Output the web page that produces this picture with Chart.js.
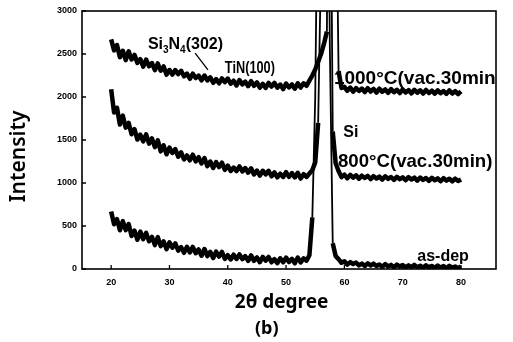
<!DOCTYPE html>
<html>
<head>
<meta charset="utf-8">
<script src="https://cdn.jsdelivr.net/npm/chart.js@4.4.1/dist/chart.umd.min.js"></script>
<style>
  html, body { margin: 0; padding: 0; background: #fff; }
</style>
</head>
<body>
<canvas id="xrdChart" width="513" height="342"></canvas>
<script>
/* XRD patterns: as-dep / 800°C / 1000°C (vac. 30 min) */

// 2θ positions (degree), 0.5° step
const ANGLES = [
  20, 20.5, 21, 21.5, 22, 22.5, 23, 23.5, 24, 24.5, 25, 25.5, 26, 26.5, 27, 27.5, 28, 28.5, 29, 29.5,
  30, 30.5, 31, 31.5, 32, 32.5, 33, 33.5, 34, 34.5, 35, 35.5, 36, 36.5, 37, 37.5, 38, 38.5, 39, 39.5,
  40, 40.5, 41, 41.5, 42, 42.5, 43, 43.5, 44, 44.5, 45, 45.5, 46, 46.5, 47, 47.5, 48, 48.5, 49, 49.5,
  50, 50.5, 51, 51.5, 52, 52.5, 53, 53.5, 54, 54.5, 55, 55.5, 56, 56.5, 57, 57.5, 58, 58.5, 59, 59.5,
  60, 60.5, 61, 61.5, 62, 62.5, 63, 63.5, 64, 64.5, 65, 65.5, 66, 66.5, 67, 67.5, 68, 68.5, 69, 69.5,
  70, 70.5, 71, 71.5, 72, 72.5, 73, 73.5, 74, 74.5, 75, 75.5, 76, 76.5, 77, 77.5, 78, 78.5, 79, 79.5,
  80
];

const AS_DEP = [
  670, 521, 580, 450, 556, 452, 523, 384, 446, 340, 434, 347, 420, 322, 373, 278, 371, 266, 322, 230,
  311, 248, 297, 213, 254, 188, 258, 192, 257, 183, 227, 154, 233, 150, 200, 127, 203, 144, 198, 118,
  160, 111, 166, 117, 170, 114, 150, 94, 158, 95, 134, 79, 140, 96, 140, 78, 115, 67, 125, 78,
  133, 80, 118, 66, 133, 76, 123, 98, 160, 600, 2000, 5000, 9000, 12000, 7000, 2600, 300, 150, 115, 72,
  90, 52, 80, 58, 76, 42, 63, 35, 66, 40, 62, 34, 52, 24, 58, 30, 48, 20, 52, 28,
  46, 20, 42, 22, 48, 18, 38, 16, 44, 20, 36, 14, 40, 16, 34, 12, 38, 14, 30, 10,
  28
];

const T800 = [
  2090, 1819, 1875, 1680, 1783, 1644, 1699, 1567, 1626, 1505, 1563, 1483, 1565, 1457, 1518, 1417, 1497, 1368, 1438, 1334,
  1412, 1349, 1395, 1306, 1357, 1273, 1320, 1264, 1329, 1252, 1300, 1227, 1290, 1196, 1250, 1174, 1243, 1185, 1237, 1153,
  1203, 1140, 1180, 1139, 1192, 1134, 1174, 1120, 1171, 1099, 1144, 1087, 1142, 1100, 1142, 1078, 1124, 1065, 1108, 1070,
  1126, 1072, 1115, 1064, 1119, 1052, 1102, 1070, 1110, 1150, 1240, 1700, 3600, 9000, 12000, 6000, 1600, 1230, 1140, 1068,
  1098, 1055, 1095, 1062, 1090, 1050, 1085, 1058, 1082, 1046, 1080, 1052, 1075, 1040, 1078, 1048, 1070, 1036, 1072, 1044,
  1066, 1032, 1068, 1040, 1062, 1028, 1064, 1036, 1058, 1024, 1060, 1032, 1054, 1020, 1056, 1028, 1050, 1018, 1050, 1024,
  1042
];

const T1000 = [
  2670, 2542, 2604, 2462, 2538, 2429, 2531, 2436, 2490, 2397, 2440, 2352, 2435, 2357, 2395, 2312, 2390, 2305, 2355, 2260,
  2314, 2260, 2313, 2266, 2305, 2241, 2272, 2212, 2271, 2220, 2249, 2193, 2250, 2192, 2229, 2165, 2209, 2159, 2216, 2173,
  2215, 2155, 2189, 2134, 2196, 2147, 2179, 2126, 2185, 2130, 2169, 2108, 2154, 2105, 2163, 2121, 2165, 2108, 2145, 2091,
  2156, 2111, 2146, 2097, 2160, 2110, 2159, 2130, 2190, 2250, 2320, 2410, 2500, 2620, 2760, 9000, 12000, 5000, 2300, 2105,
  2118, 2072, 2110, 2062, 2104, 2070, 2098, 2058, 2102, 2064, 2094, 2052, 2096, 2060, 2088, 2048, 2092, 2056, 2084, 2046,
  2088, 2052, 2080, 2042, 2084, 2050, 2078, 2040, 2082, 2046, 2074, 2038, 2078, 2044, 2070, 2036, 2076, 2040, 2068, 2034,
  2066
];

const X_TICKS = [20, 30, 40, 50, 60, 70, 80];
const Y_TICKS = [0, 500, 1000, 1500, 2000, 2500, 3000];

// text notes anchored in data units (2θ, intensity)
const NOTES = [
  { parts: [['Si'], ['3', 1], ['N'], ['4', 1], ['(302)']], at: [26.3, 2560], size: 16 },
  { parts: [['TiN(100)']], at: [39.5, 2280], size: 17, squeeze: 0.75 },
  { parts: [['1000°C(vac.30min)']], at: [58.2, 2150], size: 19 },
  { parts: [['Si']], at: [59.8, 1535], size: 16 },
  { parts: [['800°C(vac.30min)']], at: [58.9, 1185], size: 19, squeeze: 0.98 },
  { parts: [['as-dep']], at: [72.5, 95], size: 16 }
];
const POINTER = [[34.4, 2510], [36.6, 2315]];

const NOTE_FONT = "'Liberation Sans', Arial, sans-serif";
const SP = '\u00a0';

const frameAndTicks = {
  id: 'frameAndTicks',
  afterDatasetsDraw(chart) {
    const { ctx, chartArea: a, scales: { x, y } } = chart;
    ctx.save();
    ctx.strokeStyle = '#000';
    ctx.lineWidth = 1.6;
    ctx.strokeRect(a.left, a.top, a.right - a.left, a.bottom - a.top);
    ctx.lineWidth = 1.3;
    ctx.beginPath();
    X_TICKS.forEach(v => {
      const px = x.getPixelForValue(v);
      ctx.moveTo(px, a.bottom);
      ctx.lineTo(px, a.bottom - 4);
    });
    Y_TICKS.forEach(v => {
      const py = y.getPixelForValue(v);
      ctx.moveTo(a.left, py);
      ctx.lineTo(a.left + 4, py);
    });
    ctx.stroke();
    ctx.restore();
  }
};

const notesPlugin = {
  id: 'notes',
  afterDatasetsDraw(chart) {
    const { ctx, chartArea: a, scales: { x, y } } = chart;
    ctx.save();
    ctx.beginPath();
    ctx.rect(a.left, a.top, a.right - a.left, a.bottom - a.top);
    ctx.clip();
    ctx.fillStyle = '#000';
    ctx.textBaseline = 'alphabetic';
    ctx.textAlign = 'left';
    NOTES.forEach(n => {
      const k = n.squeeze || 1;
      const x0 = x.getPixelForValue(n.at[0]);
      const py = y.getPixelForValue(n.at[1]);
      ctx.save();
      ctx.translate(x0, py);
      ctx.scale(k, 1);
      let px = 0;
      n.parts.forEach(([txt, sub]) => {
        const sz = sub ? Math.round(n.size * 0.62) : n.size;
        ctx.font = 'bold ' + sz + 'px ' + NOTE_FONT;
        ctx.fillText(txt, px, sub ? 4 : 0);
        px += ctx.measureText(txt).width;
      });
      ctx.restore();
    });
    ctx.strokeStyle = '#000';
    ctx.lineWidth = 1.3;
    ctx.beginPath();
    ctx.moveTo(x.getPixelForValue(POINTER[0][0]), y.getPixelForValue(POINTER[0][1]));
    ctx.lineTo(x.getPixelForValue(POINTER[1][0]), y.getPixelForValue(POINTER[1][1]));
    ctx.stroke();
    ctx.restore();
  }
};

// thinner stroke on the steep Si peak flanks only
const peakWidth = c => (Math.abs(c.p1.parsed.y - c.p0.parsed.y) > 800 ? 1.8 : undefined);

function series(values) {
  return {
    data: ANGLES.map((a, i) => ({ x: a, y: values[i] })),
    borderColor: '#000',
    borderWidth: 4.5,
    borderJoinStyle: 'round',
    segment: { borderWidth: peakWidth },
    pointRadius: 0,
    tension: 0,
    fill: false
  };
}

const tickFont = { family: "'Liberation Sans', Arial, sans-serif", size: 9, weight: 'bold' };

new Chart(document.getElementById('xrdChart'), {
  type: 'line',
  data: { datasets: [series(AS_DEP), series(T800), series(T1000)] },
  options: {
    responsive: false,
    devicePixelRatio: 1,
    animation: false,
    layout: { padding: { top: 11, right: 17, left: 0, bottom: 0 } },
    plugins: {
      legend: { display: false },
      tooltip: { enabled: false },
      title: {
        display: true,
        position: 'bottom',
        text: SP.repeat(8) + '(b)',
        color: '#000',
        font: { family: "'Noto Sans', sans-serif", size: 18, weight: 'bold', lineHeight: 1 },
        padding: { top: 0, bottom: 4 }
      }
    },
    scales: {
      x: {
        type: 'linear',
        min: 15, max: 86,
        afterBuildTicks: s => { s.ticks = X_TICKS.map(v => ({ value: v })); },
        afterFit: s => { s.height = 51; },
        grid: { display: false, drawTicks: false },
        border: { display: false },
        ticks: { color: '#000', font: tickFont, padding: 8, maxRotation: 0 },
        title: {
          display: true,
          text: '2θ degree' + SP.repeat(3),
          color: '#000',
          font: { family: "'Noto Sans', sans-serif", size: 19, weight: 'bold', lineHeight: 1 },
          padding: { top: 0, bottom: 8 }
        }
      },
      y: {
        min: 0, max: 3000,
        afterBuildTicks: s => { s.ticks = Y_TICKS.map(v => ({ value: v })); },
        afterFit: s => { s.width = 82; },
        grid: { display: false, drawTicks: false },
        border: { display: false },
        ticks: { color: '#000', font: tickFont, padding: 5, callback: v => String(v) },
        title: {
          display: true,
          text: 'Intensity' + SP.repeat(6),
          color: '#000',
          font: { family: "'Noto Sans', sans-serif", size: 21, weight: '600', lineHeight: 1 },
          padding: { top: 9, bottom: 0 }
        }
      }
    }
  },
  plugins: [frameAndTicks, notesPlugin]
});
</script>
</body>
</html>
